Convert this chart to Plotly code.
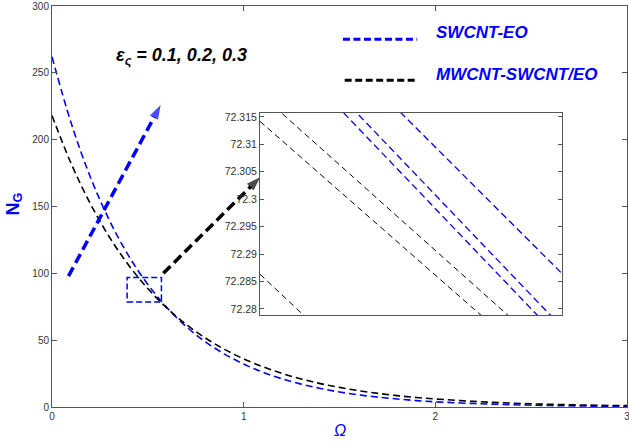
import plotly.graph_objects as go

# ---- data ----
omega = [0.0, 0.1, 0.2, 0.3, 0.4, 0.5, 0.6, 0.7, 0.8, 0.9, 1.0, 1.1, 1.2, 1.3, 1.4,
         1.5, 1.6, 1.7, 1.8, 1.9, 2.0, 2.2, 2.4, 2.6, 2.8, 3.0]
ng_swcnt = [262.0, 212.4, 172.1, 139.5, 113.1, 91.7, 74.3, 60.2, 48.8, 39.6, 32.1, 26.0,
            21.1, 17.1, 13.9, 11.2, 9.1, 7.4, 6.0, 4.8, 3.9, 2.6, 1.7, 1.1, 0.7, 0.5]
ng_mwcnt = [218.0, 182.1, 152.1, 127.0, 106.1, 88.6, 74.0, 61.8, 51.7, 43.1, 36.0, 30.1,
            25.1, 21.0, 17.5, 14.7, 12.2, 10.2, 8.5, 7.1, 6.0, 4.2, 2.9, 2.0, 1.4, 1.0]

# inset (zoom near the crossing point), three values of epsilon per fluid
inset_omega = [0.6126, 0.6130]
inset_sw = [[72.33165, 72.27416], [72.33415, 72.27665], [72.34136, 72.28645]]
inset_mw = [[72.31418, 72.26591], [72.31920, 72.27005], [72.28633, 72.23471]]
inset_ticks = [72.28, 72.285, 72.29, 72.295, 72.30, 72.305, 72.31, 72.315]
inset_ticktext = ["72.28", "72.285", "72.29", "72.295", "72.3", "72.305", "72.31", "72.315"]

# zoom box and arrows (data coords)
box_x = [0.392, 0.571]
box_y = [78.6, 96.9]
arrow_eps_x = [0.086, 0.567]
arrow_eps_y = [97.9, 225.9]
arrow_zoom_x = [0.581, 1.087]
arrow_zoom_y = [100.1, 172.0]

BLUE = "#0000ff"
BLACK = "#000000"
AX = "#555555"
FAM = "Arial, Liberation Sans, sans-serif"
TICKFONT = dict(family=FAM, size=10, color="#333333")

fig = go.Figure()

fig.add_trace(go.Scatter(x=omega, y=ng_swcnt, mode="lines", line_shape="spline",
                         line=dict(color=BLUE, width=1.6, dash="7px,4px"),
                         showlegend=False, xaxis="x", yaxis="y"))
fig.add_trace(go.Scatter(x=omega, y=ng_mwcnt, mode="lines", line_shape="spline",
                         line=dict(color=BLACK, width=1.6, dash="7px,4px"),
                         showlegend=False, xaxis="x", yaxis="y"))

# arrows
for ax_, ay_, col in [(arrow_eps_x, arrow_eps_y, BLUE), (arrow_zoom_x, arrow_zoom_y, BLACK)]:
    fig.add_trace(go.Scatter(x=ax_, y=ay_, mode="lines+markers",
                             line=dict(color=col, width=3.5, dash="10px,5px"),
                             marker=dict(symbol="arrow", size=[0, 15], color=col,
                                         angleref="previous", line=dict(width=0)),
                             showlegend=False, cliponaxis=False, xaxis="x", yaxis="y"))

# inset traces
for ys in inset_sw:
    fig.add_trace(go.Scatter(x=inset_omega, y=ys, mode="lines",
                             line=dict(color=BLUE, width=1.3, dash="7px,4px"),
                             showlegend=False, xaxis="x2", yaxis="y2"))
for ys in inset_mw:
    fig.add_trace(go.Scatter(x=inset_omega, y=ys, mode="lines",
                             line=dict(color=BLACK, width=1.0, dash="6px,4px"),
                             showlegend=False, xaxis="x2", yaxis="y2"))

# zoom rectangle
fig.add_shape(type="rect", xref="x", yref="y", x0=box_x[0], x1=box_x[1], y0=box_y[0], y1=box_y[1],
              line=dict(color=BLUE, width=1.5, dash="6px,3px"))

# manual legend
fig.add_shape(type="line", xref="paper", yref="paper", x0=0.506, x1=0.635, y0=0.917, y1=0.917,
              line=dict(color=BLUE, width=3, dash="7px,3.5px"))
fig.add_shape(type="line", xref="paper", yref="paper", x0=0.509, x1=0.635, y0=0.815, y1=0.815,
              line=dict(color=BLACK, width=3, dash="7px,3.5px"))
legfont = dict(family=FAM, size=17, color=BLUE)
fig.add_annotation(xref="paper", yref="paper", x=0.664, y=0.933, xanchor="left", yanchor="middle",
                   text="<b><i>SWCNT-EO</i></b>", showarrow=False, font=legfont)
fig.add_annotation(xref="paper", yref="paper", x=0.664, y=0.828, xanchor="left", yanchor="middle",
                   text="<b><i>MWCNT-SWCNT/EO</i></b>", showarrow=False, font=legfont)

# epsilon label
fig.add_annotation(xref="paper", yref="paper", x=0.108, y=0.875, xanchor="left", yanchor="middle",
                   text="<b><i>ε<sub>ς</sub> = 0.1, 0.2, 0.3</i></b>", showarrow=False,
                   font=dict(family=FAM, size=18, color=BLACK))

# axis titles
fig.add_annotation(xref="paper", yref="paper", x=-0.066, y=0.505, xanchor="center", yanchor="middle",
                   text="<b>N<sub>G</sub></b>", textangle=-90, showarrow=False,
                   font=dict(family=FAM, size=18, color=BLUE))
fig.add_annotation(xref="paper", yref="paper", x=0.5, y=-0.058, xanchor="center", yanchor="middle",
                   text="<i>Ω</i>", showarrow=False,
                   font=dict(family=FAM, size=16, color=BLUE))

fig.update_layout(
    width=629, height=441,
    margin=dict(l=52, r=2, t=6, b=34, autoexpand=False),
    paper_bgcolor="white", plot_bgcolor="white",
    xaxis=dict(domain=[0, 1], range=[0, 3], tickvals=[0, 1, 2, 3], ticks="inside", ticklen=5,
               tickcolor=AX, showline=True, linecolor=AX, linewidth=1, mirror="ticks",
               showgrid=False, zeroline=False, tickfont=TICKFONT, automargin=False,
               ticklabeloverflow="allow"),
    yaxis=dict(domain=[0, 1], range=[0, 300], tickvals=[0, 50, 100, 150, 200, 250, 300],
               ticks="inside", ticklen=5, tickcolor=AX, showline=True, linecolor=AX, linewidth=1,
               mirror="ticks", showgrid=False, zeroline=False, tickfont=TICKFONT, automargin=False,
               ticklabeloverflow="allow"),
    xaxis2=dict(domain=[0.3617, 0.8870], range=inset_omega, anchor="y2", showticklabels=False,
                ticks="", showline=True, linecolor=AX, linewidth=1, mirror=True,
                showgrid=False, zeroline=False, automargin=False),
    yaxis2=dict(domain=[0.2294, 0.7332], range=[72.2789, 72.3157], anchor="x2",
                tickvals=inset_ticks, ticktext=inset_ticktext, ticks="inside", ticklen=4,
                tickcolor=AX, showline=True, linecolor=AX, linewidth=1, mirror="ticks",
                showgrid=False, zeroline=False, automargin=False,
                tickfont=dict(family=FAM, size=10.5, color="#333333")),
)

fig.write_html("out.html", config={"displayModeBar": False},
               post_script="document.body.style.margin='0';document.body.style.overflow='hidden';")
